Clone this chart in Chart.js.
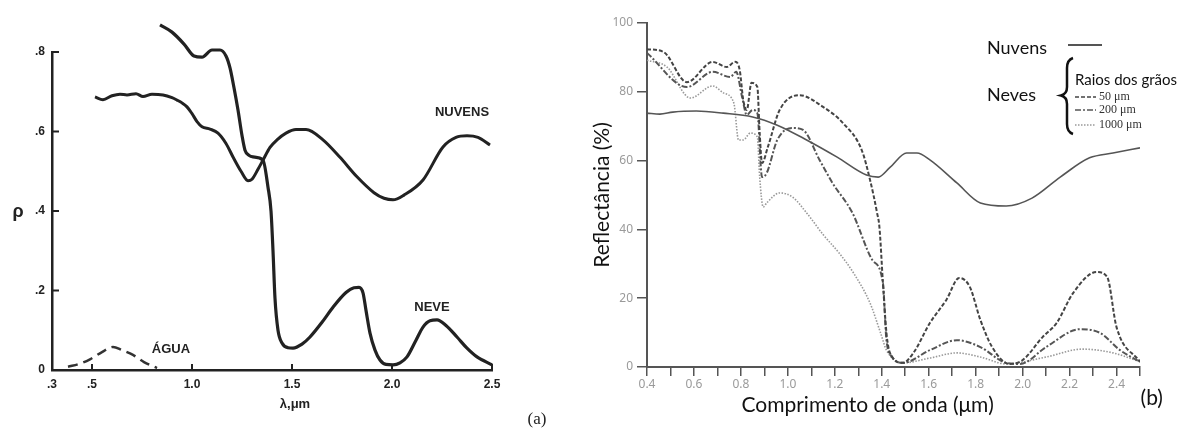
<!DOCTYPE html>
<html>
<head>
<meta charset="utf-8">
<script src="https://cdn.jsdelivr.net/npm/chart.js@4/dist/chart.umd.min.js"></script>
<style>
  body { margin: 0; background: #fff; }
  #wrap { position: relative; width: 1192px; height: 430px; overflow: hidden; }
  canvas { position: absolute; top: 0; }
  #chartA { left: 0; }
  #chartB { left: 590px; }
</style>
</head>
<body>
<div id="wrap">
  <canvas id="chartA" width="560" height="430"></canvas>
  <canvas id="chartB" width="602" height="430"></canvas>
</div>
<script>
// ---- (a) reflectance rho vs wavelength ----
const xTicksA = [0.3, 0.5, 1.0, 1.5, 2.0, 2.5];
const xTickLabelsA = ['.3', '.5', '1.0', '1.5', '2.0', '2.5'];
const yTicksA = [0, 0.2, 0.4, 0.6, 0.8];
const yTickLabelsA = ['0', '.2', '.4', '.6', '.8'];

const waveNuvensA = [0.515, 0.555, 0.6, 0.64, 0.675, 0.72, 0.755, 0.8, 0.855, 0.9, 0.925, 0.95, 0.975, 1.0, 1.025, 1.05, 1.09, 1.13, 1.17, 1.205, 1.245, 1.28, 1.3, 1.33, 1.355, 1.39, 1.425, 1.47, 1.52, 1.57, 1.655, 1.74, 1.825, 1.91, 1.96, 2.005, 2.06, 2.155, 2.255, 2.32, 2.375, 2.43, 2.49];
const rhoNuvensA = [0.687, 0.680, 0.690, 0.694, 0.692, 0.695, 0.688, 0.694, 0.692, 0.685, 0.679, 0.672, 0.662, 0.645, 0.625, 0.612, 0.606, 0.596, 0.570, 0.536, 0.500, 0.476, 0.480, 0.505, 0.528, 0.560, 0.579, 0.596, 0.605, 0.605, 0.579, 0.535, 0.486, 0.446, 0.432, 0.428, 0.440, 0.478, 0.561, 0.585, 0.589, 0.585, 0.566];

const waveNeveA = [0.84, 0.9, 0.96, 1.01, 1.05, 1.1, 1.14, 1.17, 1.19, 1.21, 1.23, 1.25, 1.265, 1.285, 1.305, 1.355, 1.38, 1.395, 1.405, 1.415, 1.43, 1.45, 1.48, 1.505, 1.55, 1.59, 1.65, 1.705, 1.77, 1.81, 1.835, 1.855, 1.87, 1.89, 1.915, 1.94, 1.97, 2.005, 2.04, 2.075, 2.12, 2.155, 2.19, 2.225, 2.27, 2.325, 2.375, 2.425, 2.5];
const rhoNeveA = [0.868, 0.850, 0.820, 0.790, 0.787, 0.805, 0.805, 0.790, 0.760, 0.710, 0.654, 0.590, 0.553, 0.540, 0.536, 0.528, 0.460, 0.400, 0.300, 0.180, 0.100, 0.068, 0.056, 0.055, 0.065, 0.083, 0.120, 0.158, 0.195, 0.207, 0.208, 0.194, 0.150, 0.093, 0.050, 0.025, 0.014, 0.013, 0.018, 0.033, 0.075, 0.108, 0.124, 0.126, 0.112, 0.083, 0.055, 0.033, 0.013];

const waveAguaA = [0.38, 0.44, 0.49, 0.55, 0.605, 0.65, 0.705, 0.76, 0.825];
const rhoAguaA = [0.008, 0.016, 0.027, 0.045, 0.058, 0.050, 0.038, 0.020, 0.005];

// ---- (b) reflectance (%) vs wavelength ----
const xTickLabelsB = ['0.4', '0.6', '0.8', '1.0', '1.2', '1.4', '1.6', '1.8', '2.0', '2.2', '2.4'];
const seriesNamesB = ['Nuvens', '50 μm', '200 μm', '1000 μm'];

const waveNuvensB = [0.40, 0.455, 0.51, 0.61, 0.725, 0.85, 0.955, 1.08, 1.21, 1.335, 1.385, 1.435, 1.506, 1.55, 1.605, 1.72, 1.82, 1.93, 2.04, 2.16, 2.285, 2.385, 2.5];
const reflNuvensB = [73.8, 73.5, 74.1, 74.4, 73.8, 72.7, 70.3, 66.0, 61.0, 55.8, 55.2, 58.0, 62.2, 62.2, 60.2, 53.5, 47.7, 46.8, 49.1, 55.2, 60.8, 62.2, 63.7];

const wave50B = [0.40, 0.47, 0.57, 0.68, 0.74, 0.775, 0.795, 0.81, 0.825, 0.845, 0.87, 0.88, 0.89, 0.915, 0.965, 1.05, 1.15, 1.235, 1.315, 1.35, 1.38, 1.39, 1.405, 1.42, 1.435, 1.49, 1.535, 1.605, 1.675, 1.73, 1.775, 1.82, 1.87, 1.945, 2.0, 2.085, 2.145, 2.215, 2.315, 2.36, 2.4, 2.5];
const refl50B = [92.4, 91.6, 82.8, 88.7, 87.2, 88.7, 86.3, 77.6, 74.7, 82.6, 81.4, 68.0, 59.3, 64.0, 74.7, 79.0, 75.6, 70.9, 63.0, 54.4, 44.8, 40.7, 24.4, 9.9, 4.1, 1.2, 4.1, 12.8, 19.5, 25.9, 23.3, 13.7, 5.8, 0.9, 2.0, 8.7, 12.8, 21.5, 27.6, 26.2, 11.6, 1.5];

const wave200B = [0.40, 0.57, 0.68, 0.755, 0.78, 0.805, 0.825, 0.85, 0.87, 0.89, 0.91, 0.955, 1.02, 1.065, 1.135, 1.19, 1.275, 1.36, 1.405, 1.42, 1.445, 1.49, 1.605, 1.72, 1.82, 1.93, 1.99, 2.1, 2.245, 2.33, 2.415, 2.5];
const refl200B = [91.3, 81.4, 85.8, 84.3, 85.8, 78.5, 73.3, 74.7, 73.8, 55.2, 56.4, 66.0, 69.5, 68.9, 60.2, 53.5, 44.8, 31.1, 24.4, 7.8, 2.9, 1.2, 4.9, 7.8, 5.8, 1.2, 0.9, 5.8, 11.0, 9.9, 4.9, 1.5];

const wave1000B = [0.40, 0.485, 0.585, 0.68, 0.725, 0.77, 0.79, 0.81, 0.84, 0.87, 0.88, 0.895, 0.91, 0.965, 1.02, 1.08, 1.15, 1.22, 1.28, 1.35, 1.395, 1.42, 1.49, 1.605, 1.72, 1.82, 1.93, 2.1, 2.255, 2.385, 2.5];
const refl1000B = [89.2, 87.2, 78.2, 81.7, 79.7, 76.7, 66.0, 66.0, 68.0, 66.9, 55.2, 46.5, 47.7, 50.6, 49.4, 44.8, 38.5, 33.0, 27.3, 18.6, 9.9, 4.9, 1.2, 2.6, 4.1, 2.9, 0.9, 2.9, 5.2, 4.1, 1.5];

const pts = (xs, ys) => xs.map((x, i) => ({ x: x, y: ys[i] }));

// (a) inside ticks and annotations
const decorA = {
    id: 'decorA',
    afterDraw(chart) {
        const { ctx, scales: { x, y } } = chart;
        ctx.save();
        ctx.strokeStyle = '#222';
        ctx.lineWidth = 2;
        yTicksA.forEach(v => {
            if (v === 0) return;
            const py = y.getPixelForValue(v);
            ctx.beginPath(); ctx.moveTo(x.left, py); ctx.lineTo(x.left + 7, py); ctx.stroke();
        });
        xTicksA.forEach(v => {
            if (v === xTicksA[0]) return;
            const px = x.getPixelForValue(v);
            ctx.beginPath(); ctx.moveTo(px, y.bottom + 1); ctx.lineTo(px, y.bottom - 6); ctx.stroke();
        });
        ctx.fillStyle = '#222';
        ctx.textAlign = 'center';
        ctx.textBaseline = 'middle';
        ctx.font = 'bold 13px "Liberation Sans"';
        ctx.fillText('NUVENS', x.getPixelForValue(2.35), y.getPixelForValue(0.647));
        ctx.fillText('NEVE', x.getPixelForValue(2.2), y.getPixelForValue(0.158));
        ctx.fillText('ÁGUA', x.getPixelForValue(0.895), y.getPixelForValue(0.053));
        ctx.fillText('λ,μm', x.getPixelForValue(1.515), y.bottom + 34);
        ctx.font = 'bold 18px "Liberation Sans"';
        ctx.fillText('ρ', x.left - 34, y.getPixelForValue(0.4) + 1);
        ctx.font = '17px "Liberation Serif"';
        ctx.fillText('(a)', 537, 420);
        ctx.restore();
    }
};

new Chart(document.getElementById('chartA').getContext('2d'), {
    type: 'line',
    data: {
        datasets: [
            { label: 'Nuvens', data: pts(waveNuvensA, rhoNuvensA), borderColor: '#222', borderWidth: 3, pointRadius: 0, cubicInterpolationMode: 'monotone', clip: false },
            { label: 'Neve', data: pts(waveNeveA, rhoNeveA), borderColor: '#222', borderWidth: 3.2, pointRadius: 0, cubicInterpolationMode: 'monotone', clip: false },
            { label: 'Água', data: pts(waveAguaA, rhoAguaA), borderColor: '#333', borderWidth: 2.5, borderDash: [10, 6], pointRadius: 0, cubicInterpolationMode: 'monotone', clip: false }
        ]
    },
    options: {
        responsive: false,
        animation: false,
        devicePixelRatio: 1,
        layout: { padding: { left: 0, right: 68, top: 52, bottom: 0 } },
        plugins: { legend: { display: false }, tooltip: { enabled: false } },
        scales: {
            x: {
                type: 'linear', min: 0.3, max: 2.5,
                afterBuildTicks: s => { s.ticks = xTicksA.map(v => ({ value: v })); },
                afterFit: s => { s.height = 60; },
                grid: { display: false, drawTicks: false },
                border: { display: true, color: '#222', width: 2.5 },
                ticks: {
                    padding: 7, maxRotation: 0, autoSkip: false, color: '#222',
                    font: { family: 'Liberation Sans', size: 12, weight: 'bold' },
                    callback: v => xTickLabelsA[xTicksA.indexOf(v)]
                }
            },
            y: {
                type: 'linear', min: 0, max: 0.8,
                afterBuildTicks: s => { s.ticks = yTicksA.map(v => ({ value: v })); },
                afterFit: s => { s.width = 52; },
                grid: { display: false, drawTicks: false },
                border: { display: true, color: '#222', width: 2.5 },
                ticks: {
                    padding: 7, color: '#222',
                    font: { family: 'Liberation Sans', size: 12, weight: 'bold' },
                    callback: v => yTickLabelsA[yTicksA.indexOf(v)]
                }
            }
        }
    },
    plugins: [decorA]
});

// (b) legend, x title and panel letter
const decorB = {
    id: 'decorB',
    afterDraw(chart) {
        const { ctx, scales: { x, y } } = chart;
        const ds = chart.data.datasets;
        ctx.save();
        ctx.fillStyle = '#111';
        ctx.textBaseline = 'middle';
        ctx.textAlign = 'center';
        ctx.font = '21px Lato';
        ctx.fillText('Comprimento de onda (μm)', x.getPixelForValue(1.34), y.bottom + 38);
        ctx.fillText('(b)', x.getPixelForValue(2.55), y.bottom + 31);

        ctx.textAlign = 'left';
        ctx.font = '18px Lato';
        ctx.fillText(ds[0].label, 397, 48);
        ctx.fillText('Neves', 397, 95);
        ctx.strokeStyle = ds[0].borderColor;
        ctx.lineWidth = 2;
        ctx.beginPath(); ctx.moveTo(478, 45); ctx.lineTo(512, 45); ctx.stroke();

        // brace
        ctx.strokeStyle = '#111';
        ctx.lineWidth = 2.5;
        ctx.beginPath();
        ctx.moveTo(483, 58);
        ctx.quadraticCurveTo(477, 60, 477, 68);
        ctx.lineTo(477, 87);
        ctx.quadraticCurveTo(477, 94, 471, 95.5);
        ctx.quadraticCurveTo(477, 97, 477, 104);
        ctx.lineTo(477, 124);
        ctx.quadraticCurveTo(477, 132, 483, 134);
        ctx.stroke();

        ctx.font = '15px Lato';
        ctx.fillText('Raios dos grãos', 485, 80);

        const rowsY = [97, 110, 125];
        ctx.font = '12px "Liberation Serif"';
        for (let i = 1; i < ds.length; i++) {
            const ry = rowsY[i - 1];
            ctx.strokeStyle = ds[i].borderColor;
            ctx.lineWidth = 1.3;
            ctx.setLineDash(ds[i].borderDash);
            ctx.beginPath(); ctx.moveTo(485, ry); ctx.lineTo(506, ry); ctx.stroke();
            ctx.setLineDash([]);
            ctx.fillStyle = '#333';
            ctx.fillText(ds[i].label, 509, ry);
        }
        ctx.restore();
    }
};

new Chart(document.getElementById('chartB').getContext('2d'), {
    type: 'line',
    data: {
        datasets: [
            { label: seriesNamesB[0], data: pts(waveNuvensB, reflNuvensB), borderColor: '#555', borderWidth: 1.6, borderDash: [], pointRadius: 0, cubicInterpolationMode: 'monotone' },
            { label: seriesNamesB[1], data: pts(wave50B, refl50B), borderColor: '#444', borderWidth: 2, borderDash: [4, 2], pointRadius: 0, cubicInterpolationMode: 'monotone' },
            { label: seriesNamesB[2], data: pts(wave200B, refl200B), borderColor: '#555', borderWidth: 2, borderDash: [6, 2, 2, 2], pointRadius: 0, cubicInterpolationMode: 'monotone' },
            { label: seriesNamesB[3], data: pts(wave1000B, refl1000B), borderColor: '#999', borderWidth: 1.6, borderDash: [1.5, 1.5], pointRadius: 0, cubicInterpolationMode: 'monotone' }
        ]
    },
    options: {
        responsive: false,
        animation: false,
        devicePixelRatio: 1,
        layout: { padding: { left: 0, right: 52, top: 23, bottom: 0 } },
        plugins: { legend: { display: false }, tooltip: { enabled: false } },
        scales: {
            x: {
                type: 'linear', min: 0.4, max: 2.5,
                afterFit: s => { s.height = 63; },
                grid: { drawOnChartArea: false, drawTicks: true, tickLength: 9, color: '#555', lineWidth: 1.5 },
                border: { display: true, color: '#555', width: 2 },
                ticks: {
                    stepSize: 0.1, padding: 1, maxRotation: 0, autoSkip: false, color: '#9a9a9a',
                    font: { family: 'Noto Sans', size: 12 },
                    callback: v => { const s = v.toFixed(1); return xTickLabelsB.includes(s) ? s : ''; }
                }
            },
            y: {
                type: 'linear', min: 0, max: 100,
                afterFit: s => { s.width = 57; },
                grid: { drawOnChartArea: false, drawTicks: true, tickLength: 10, color: '#555', lineWidth: 1.5 },
                border: { display: true, color: '#555', width: 2 },
                title: { display: true, text: 'Reflectância (%)', color: '#111', font: { family: 'Lato', size: 21 }, padding: { top: 0, bottom: 0 } },
                ticks: {
                    stepSize: 20, padding: 4, color: '#9a9a9a',
                    font: { family: 'Noto Sans', size: 12 }
                }
            }
        }
    },
    plugins: [decorB]
});
</script>
</body>
</html>
